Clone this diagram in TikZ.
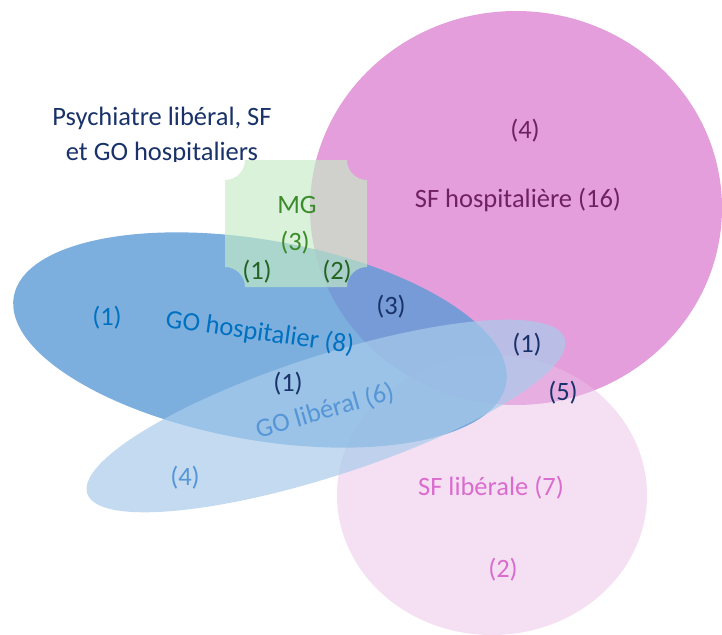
\documentclass[tikz,border=0pt]{standalone}
\usepackage{fontspec}
\setmainfont{Carlito}
\definecolor{sfhosp}{RGB}{227,158,219}
\definecolor{sflib}{RGB}{235,193,231}
\definecolor{gohosp}{RGB}{91,155,213}
\definecolor{golib}{RGB}{169,203,235}
\definecolor{mgfill}{RGB}{198,235,198}
\definecolor{navy}{RGB}{25,50,105}
\definecolor{purpletxt}{RGB}{112,32,100}
\definecolor{greentxt}{RGB}{60,140,45}
\definecolor{dkgreen}{RGB}{35,100,35}
\definecolor{bluetxt}{RGB}{0,112,192}
\definecolor{ltbluetxt}{RGB}{85,150,215}
\definecolor{pinktxt}{RGB}{218,108,206}
\begin{document}
\begin{tikzpicture}[x=1pt,y=-1pt,
  lbl/.style={font=\fontsize{26.5}{35}\selectfont, inner sep=0pt}]
\useasboundingbox (0,0) rectangle (722,634);
% sets
\fill[sfhosp] (516,208) ellipse [x radius=206, y radius=197];
\fill[sflib, opacity=0.5] (492,495) ellipse [x radius=155, y radius=140];
\fill[gohosp, opacity=0.8, rotate around={-10:(260,340)}] (260,340) ellipse [x radius=250, y radius=100];
\fill[golib, opacity=0.7, rotate around={18:(326,416)}] (326,416) ellipse [x radius=251, y radius=60];
\fill[mgfill, opacity=0.65] (245,160) -- (347,160) .. controls (347,171) and (356,180) .. (367,180)
  -- (367,267) .. controls (356,267) and (347,276) .. (347,287)
  -- (245,287) .. controls (245,276) and (236,267) .. (225,267)
  -- (225,180) .. controls (236,180) and (245,171) .. (245,160) -- cycle;
% title
\begin{scope}
\clip (0,0) rectangle (722,161);
\node[lbl, text=navy, align=center] (title) at (162,136) {Psychiatre libéral, SF\\et GO hospitaliers};
\end{scope}
% labels
\node[lbl, text=purpletxt] (sfh4) at (525,131) {(4)};
\node[lbl, text=purpletxt] (sfh) at (518,200) {SF hospitalière (16)};
\node[lbl, text=greentxt] (mg) at (297,205) {MG};
\node[lbl, text=greentxt] (mg3) at (295,243) {(3)};
\node[lbl, text=dkgreen] (mg1) at (257,272) {(1)};
\node[lbl, text=dkgreen] (mg2) at (337,272) {(2)};
\node[lbl, text=bluetxt] (goh1) at (107,318) {(1)};
\node[lbl, text=bluetxt, rotate=-8] (goh) at (260,333) {GO hospitalier (8)};
\node[lbl, text=navy] (n3) at (391,307) {(3)};
\node[lbl, text=navy] (n1a) at (527,345) {(1)};
\node[lbl, text=navy] (n1b) at (288,384) {(1)};
\node[lbl, text=navy] (n5) at (563,393) {(5)};
\node[lbl, text=ltbluetxt, rotate=16] (gol) at (325,411) {GO libéral (6)};
\node[lbl, text=ltbluetxt] (gol4) at (185,478) {(4)};
\node[lbl, text=pinktxt] (sfl) at (491,488) {SF libérale (7)};
\node[lbl, text=pinktxt] (sfl2) at (503,570) {(2)};
\end{tikzpicture}
\end{document}
